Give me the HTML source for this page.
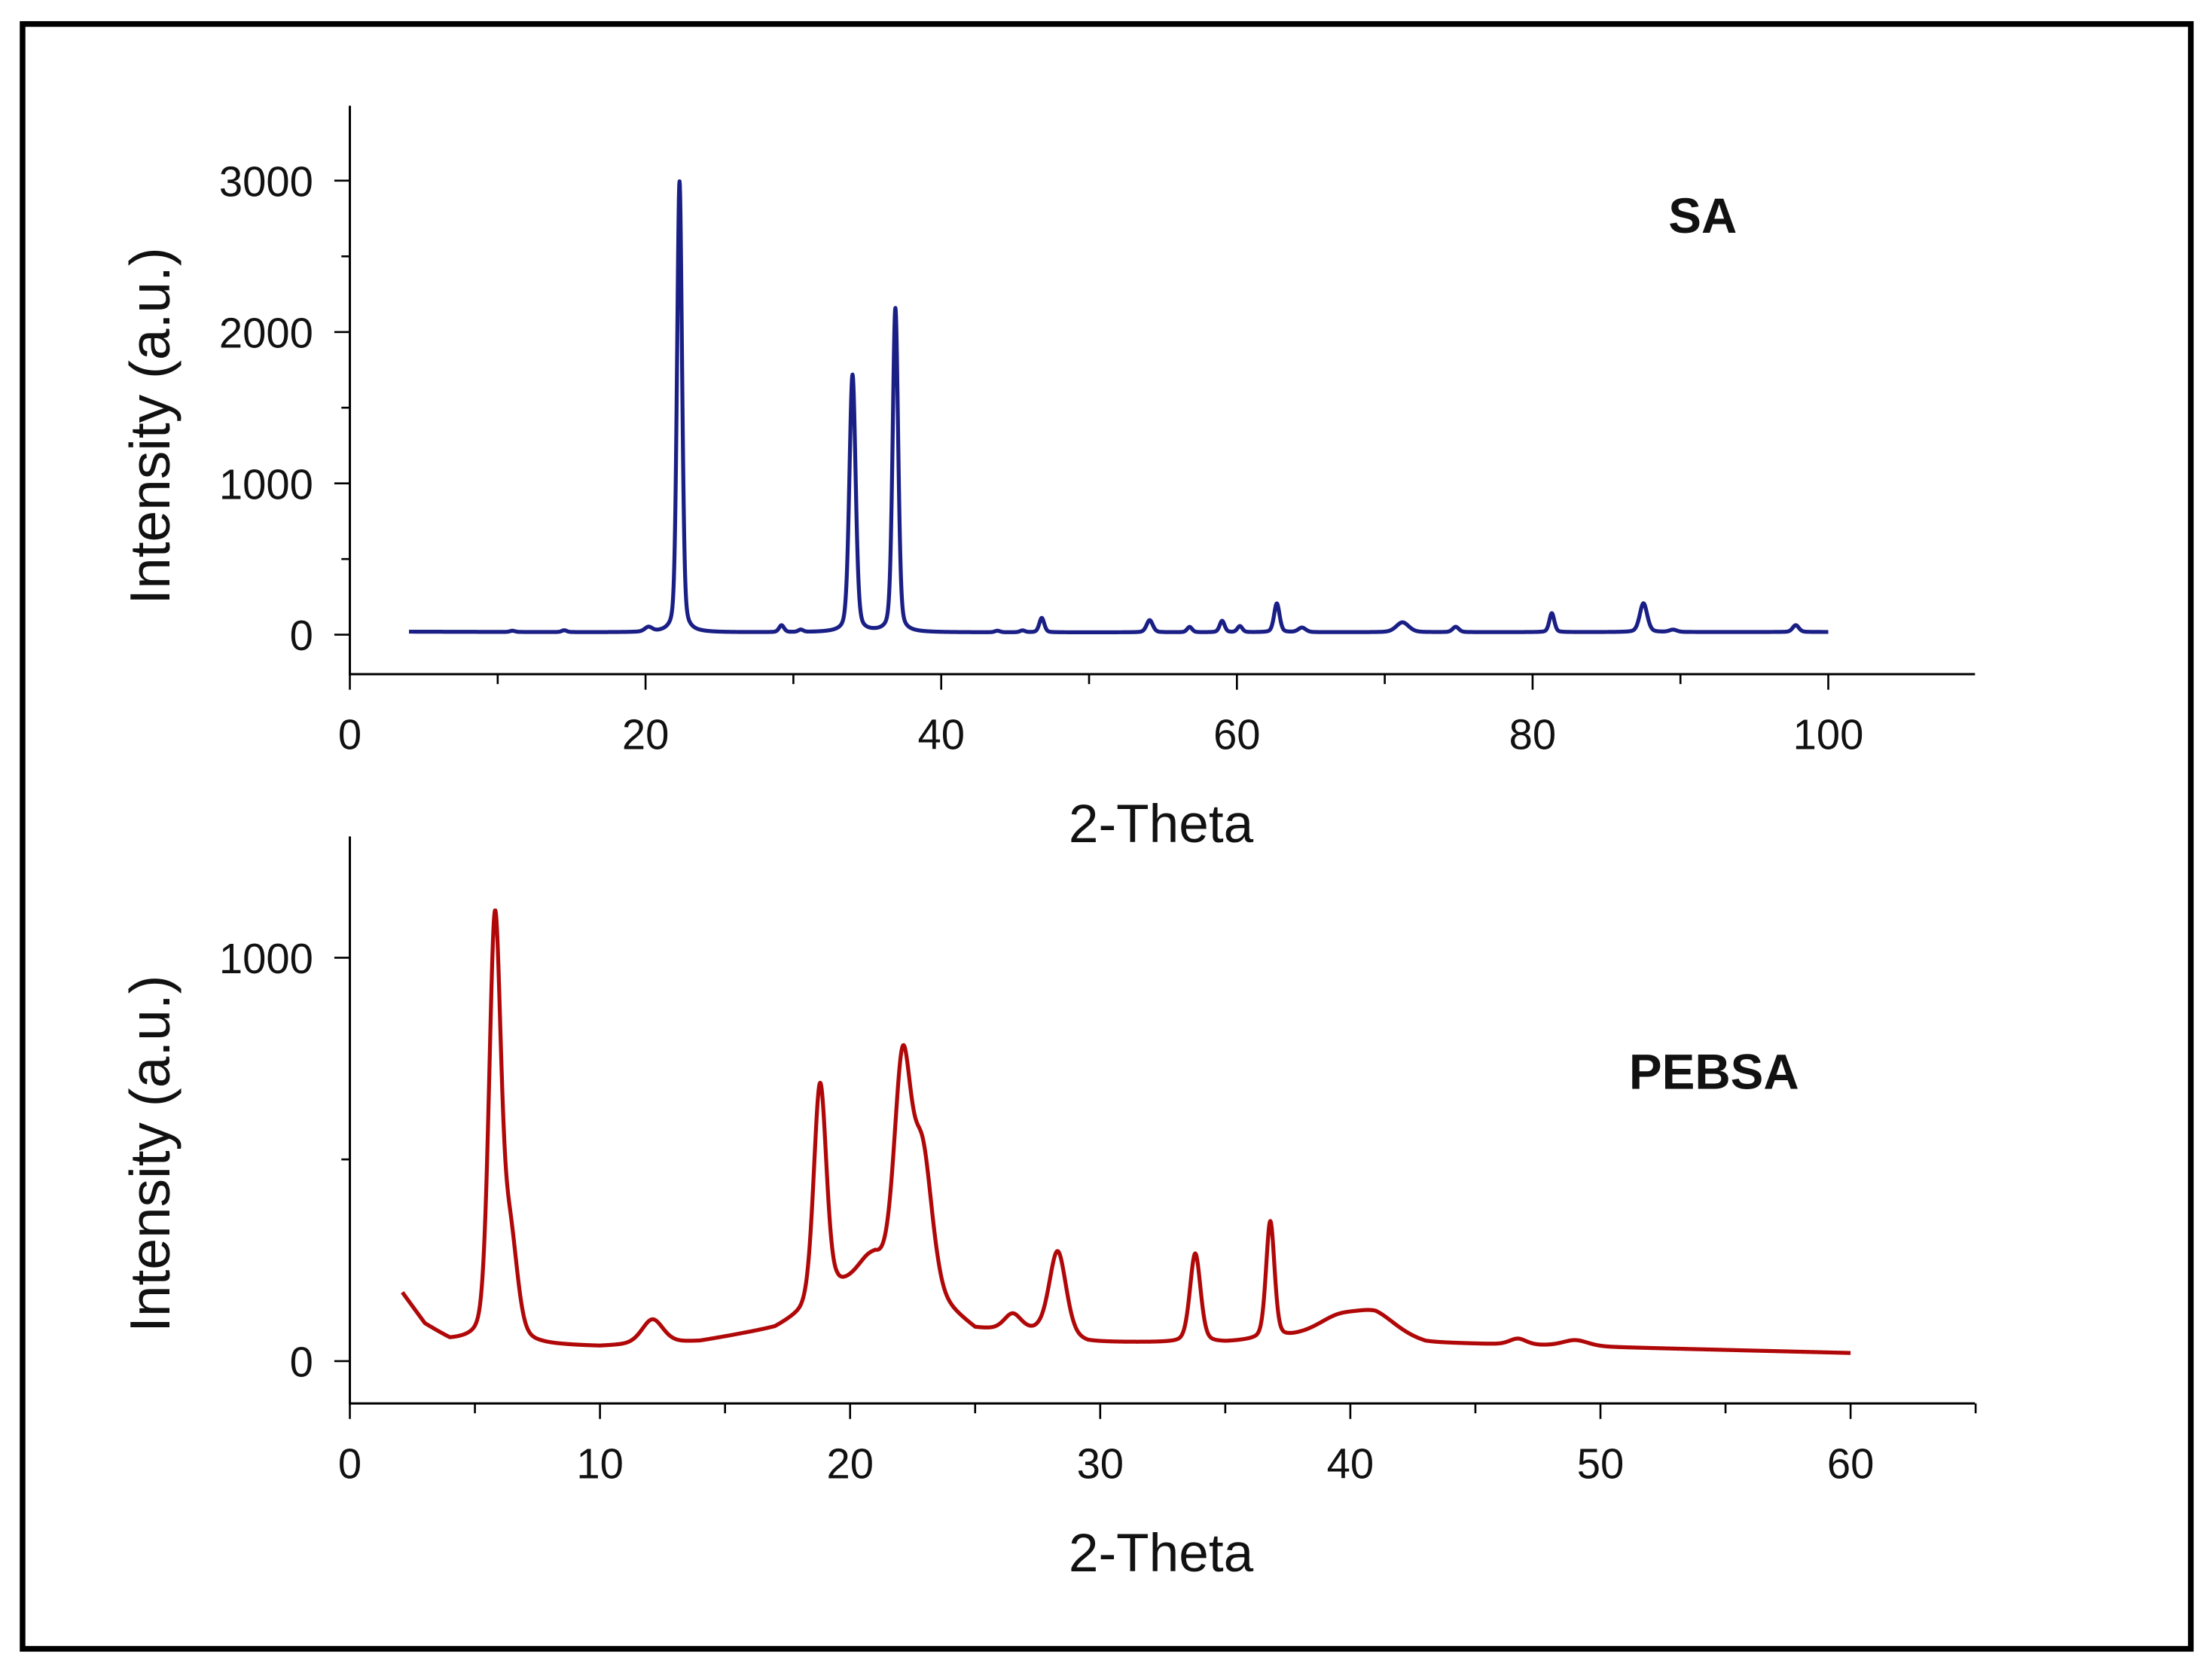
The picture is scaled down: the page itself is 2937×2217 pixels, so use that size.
<!DOCTYPE html>
<html><head><meta charset="utf-8"><style>
html,body{margin:0;padding:0;background:#fff}
svg{display:block}
text{font-family:"Liberation Sans",sans-serif;fill:#111}
</style></head><body>
<svg id="chart" width="2937" height="2217" viewBox="0 0 1568 1184" preserveAspectRatio="none" xmlns="http://www.w3.org/2000/svg">
<rect x="16" y="17" width="1537" height="1152" fill="#fff" stroke="#000" stroke-width="4"/>
<g id="top"></g>
<g id="bot"></g>
</svg>
<script>
// ---- SA data ----
const saPeakPos = [11, 14.5, 20.2, 22.3, 29.2, 30.5, 34.0, 36.9, 43.8, 45.5, 46.8, 54.1, 56.8, 59.0, 60.2, 62.7, 64.4, 71.2, 74.8, 81.3, 87.5, 89.5, 97.8];
const saPeakHeight = [8, 12, 30, 2980, 45, 15, 1700, 2140, 10, 12, 95, 80, 35, 75, 40, 190, 30, 65, 35, 125, 190, 15, 45];
const saPeakWidth = [0.2, 0.2, 0.3, 0.2, 0.2, 0.2, 0.25, 0.22, 0.2, 0.2, 0.2, 0.25, 0.2, 0.2, 0.2, 0.22, 0.3, 0.5, 0.25, 0.2, 0.3, 0.3, 0.25];
const saBaseX = [4, 20, 40, 100];
const saBaseY = [20, 15, 15, 18];
const saXTicks = [0, 20, 40, 60, 80, 100];
const saYTicks = [0, 1000, 2000, 3000];
// ---- PEBSA data ----
const pePeakPos = [5.8, 6.4, 12.1, 18.8, 20.8, 22.1, 22.9, 26.5, 28.3, 33.8, 36.8, 39.5, 41.0, 46.7, 49.0];
const pePeakHeight = [1030, 250, 60, 540, 50, 550, 340, 40, 210, 220, 290, 40, 45, 15, 15];
const pePeakWidth = [0.28, 0.35, 0.5, 0.3, 0.6, 0.4, 0.45, 0.4, 0.4, 0.25, 0.2, 1.0, 1.0, 0.4, 0.6];
const peBaseX = [2.1, 3, 4, 8, 10, 14, 17, 18, 19.5, 21, 23.5, 25, 27.5, 29.5, 35, 38, 41, 43, 50, 60];
const peBaseY = [168, 90, 50, 38, 35, 48, 80, 110, 175, 200, 140, 75, 70, 45, 45, 60, 70, 45, 35, 20];
const peXTicks = [0, 10, 20, 30, 40, 50, 60];
const peYTicks = [0, 1000];

const NS = "http://www.w3.org/2000/svg";
function mk(parent, tag, attrs, txt) {
  const e = document.createElementNS(NS, tag);
  for (const k in attrs) e.setAttribute(k, attrs[k]);
  if (txt !== undefined) e.textContent = txt;
  parent.appendChild(e);
  return e;
}
function interp(xs, ys, x) {
  if (x <= xs[0]) return ys[0];
  for (let i = 1; i < xs.length; i++) if (x <= xs[i]) {
    const t = (x - xs[i-1]) / (xs[i] - xs[i-1]); return ys[i-1] + t * (ys[i] - ys[i-1]);
  }
  return ys[ys.length-1];
}
function signal(x, pos, h, w, bx, by) {
  let y = interp(bx, by, x);
  for (let i = 0; i < pos.length; i++) {
    const d = (x - pos[i]) / w[i];
    y += h[i] * (0.7 * Math.exp(-0.693 * d * d) + 0.3 / (1 + d * d));
  }
  return y;
}
function panel(g, cfg) {
  const X = v => cfg.x0 + (v - cfg.xmin) * cfg.xs;
  const Y = v => cfg.y0 - v * cfg.ys;
  const ax = mk(g, "path", {d: `M${cfg.x0},${cfg.yTop}V${cfg.yAxis}H${cfg.xEnd}`, stroke: "#000", "stroke-width": 1.6, fill: "none"});
  
  
  for (let v = cfg.xmin; X(v) <= cfg.xEnd + 0.5; v += cfg.xMinor) {
    const major = cfg.xTicks.includes(v);
    const t = mk(g, "line", {x1: X(v), x2: X(v), y1: cfg.yAxis, y2: cfg.yAxis + (major ? 11 : 7), stroke: "#000", "stroke-width": 1.4});
    
    
  }
  cfg.xTicks.forEach(v => {
    const t = mk(g, "text", {x: X(v), y: cfg.yAxis + 53, "font-size": 30, "text-anchor": "middle"}, String(v));
    
    
  });
  for (let v = 0; Y(v) >= cfg.yTop - 0.5; v += cfg.yMinor) {
    const major = cfg.yTicks.includes(v);
    const t = mk(g, "line", {x1: cfg.x0, x2: cfg.x0 - (major ? 11 : 6), y1: Y(v), y2: Y(v), stroke: "#000", "stroke-width": 1.4});
    
    
  }
  cfg.yTicks.forEach(v => {
    const t = mk(g, "text", {x: 222, y: Y(v) + 11, "font-size": 30, "text-anchor": "end"}, String(v));
    
    
  });
  const yt = mk(g, "text", {x: 0, y: 0, "font-size": 40, "text-anchor": "middle", transform: `translate(120,${cfg.yTitleY}) rotate(-90)`}, "Intensity (a.u.)");
  
  
  const xt = mk(g, "text", {x: 823, y: cfg.yAxis + 119, "font-size": 38, "text-anchor": "middle"}, "2-Theta");
  
  
  const lb = mk(g, "text", {x: cfg.lx, y: cfg.ly, "font-size": 35, "font-weight": "bold", "text-anchor": "middle"}, cfg.label);
  
  
  let d = "";
  const xa = cfg.bx[0], xb = cfg.bx[cfg.bx.length-1];
  for (let x = xa; x <= xb + 1e-9; x += cfg.step) {
    const y = signal(x, cfg.pos, cfg.h, cfg.w, cfg.bx, cfg.by);
    d += (d ? "L" : "M") + X(x).toFixed(2) + "," + Y(y).toFixed(2);
  }
  const ln = mk(g, "path", {d: d, stroke: cfg.color, "stroke-width": 2.8, fill: "none", "stroke-linejoin": "round"});
  
  
}
panel(document.getElementById("top"), {
  x0: 248, xmin: 0, xs: 10.48, xEnd: 1400, xMinor: 10, xTicks: saXTicks,
  y0: 450, ys: 0.1073, yTop: 75, yAxis: 478, yMinor: 500, yTicks: saYTicks, yTitleY: 302,
  label: "SA", lx: 1207, ly: 165, color: "#1a1f85", name: "sa-line",
  pos: saPeakPos, h: saPeakHeight, w: saPeakWidth, bx: saBaseX, by: saBaseY, step: 0.02
});
panel(document.getElementById("bot"), {
  x0: 248, xmin: 0, xs: 17.73, xEnd: 1400, xMinor: 5, xTicks: peXTicks,
  y0: 965, ys: 0.286, yTop: 593, yAxis: 995, yMinor: 500, yTicks: peYTicks, yTitleY: 818,
  label: "PEBSA", lx: 1215, ly: 772, color: "#b00808", name: "pebsa-line",
  pos: pePeakPos, h: pePeakHeight, w: pePeakWidth, bx: peBaseX, by: peBaseY, step: 0.02
});
</script>
</body></html>
